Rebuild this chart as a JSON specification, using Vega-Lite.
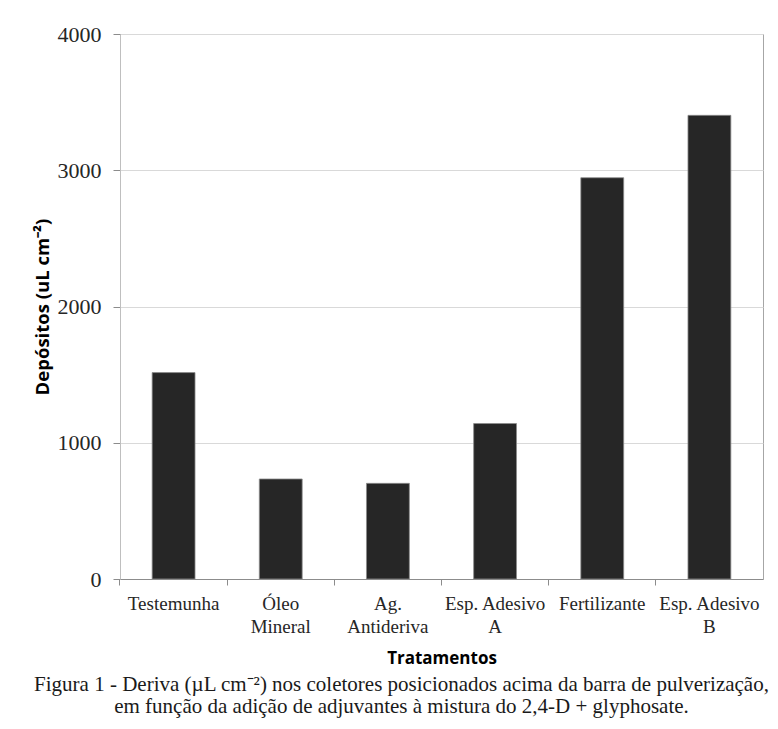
{
  "$schema": "https://vega.github.io/schema/vega-lite/v6.json",
  "width": 643,
  "height": 545,
  "autosize": "none",
  "padding": {"left": 120, "top": 34, "right": 15, "bottom": 150},
  "background": "white",
  "config": {
    "view": {"stroke": "#a6a6a6", "strokeWidth": 1}
  },
  "title": {
    "text": [
      "Figura 1 - Deriva (µL cm⁻²) nos coletores posicionados acima da barra de pulverização,",
      "em função da adição de adjuvantes à mistura do 2,4-D + glyphosate."
    ],
    "orient": "bottom",
    "anchor": "middle",
    "font": "Liberation Serif",
    "fontSize": 21,
    "fontWeight": "normal",
    "color": "#1a1a1a",
    "lineHeight": 22,
    "offset": 8,
    "dx": -40
  },
  "data": {
    "values": [
      {"tratamento": "Testemunha", "depositos": 1515},
      {"tratamento": "Óleo Mineral", "depositos": 734},
      {"tratamento": "Ag. Antideriva", "depositos": 702},
      {"tratamento": "Esp. Adesivo A", "depositos": 1141},
      {"tratamento": "Fertilizante", "depositos": 2945},
      {"tratamento": "Esp. Adesivo B", "depositos": 3403}
    ]
  },
  "layer": [
    {
      "mark": {"type": "bar", "color": "#262626", "stroke": "#8c8c8c", "strokeWidth": 0.8},
      "encoding": {
        "x": {
          "field": "tratamento",
          "type": "nominal",
          "sort": null,
          "scale": {"paddingInner": 0.6, "paddingOuter": 0.3},
          "axis": {
            "orient": "bottom",
            "title": "Tratamentos",
            "titleFont": "Open Sans",
            "titleFontSize": 17,
            "titleFontWeight": "bold",
            "titleColor": "#000000",
            "titlePadding": 14,
            "labelAngle": 0,
            "labelFont": "Liberation Serif",
            "labelFontSize": 19,
            "labelColor": "#262626",
            "labelPadding": 15,
            "labelLineHeight": 23,
            "labelExpr": "indexof(datum.value, ' ') < 0 ? datum.value : [substring(datum.value, 0, lastindexof(datum.value, ' ')), substring(datum.value, lastindexof(datum.value, ' ') + 1)]",
            "ticks": false,
            "domainColor": "#8c8c8c",
            "grid": false
          }
        },
        "y": {
          "field": "depositos",
          "type": "quantitative",
          "scale": {"domain": [0, 4000]},
          "axis": {
            "values": [0, 1000, 2000, 3000, 4000],
            "format": "d",
            "title": "Depósitos (uL cm⁻²)",
            "titleFont": "Open Sans",
            "titleFontSize": 18.5,
            "titleFontWeight": "bold",
            "titleColor": "#000000",
            "titlePadding": 5,
            "labelFont": "Liberation Serif",
            "labelFontSize": 22,
            "labelColor": "#262626",
            "labelPadding": 12,
            "tickSize": 7,
            "tickColor": "#8c8c8c",
            "domainColor": "#bfbfbf",
            "grid": true,
            "gridColor": "#d9d9d9"
          }
        }
      }
    },
    {
      "mark": {"type": "bar", "opacity": 0},
      "encoding": {
        "x": {
          "field": "tratamento",
          "type": "nominal",
          "sort": null,
          "axis": {
            "orient": "bottom",
            "title": null,
            "labels": false,
            "ticks": true,
            "tickSize": 6,
            "tickColor": "#8c8c8c",
            "bandPosition": -0.75,
            "domain": false,
            "grid": false
          }
        },
        "y": {"field": "depositos", "type": "quantitative"}
      }
    }
  ],
  "resolve": {"axis": {"x": "independent"}}
}
